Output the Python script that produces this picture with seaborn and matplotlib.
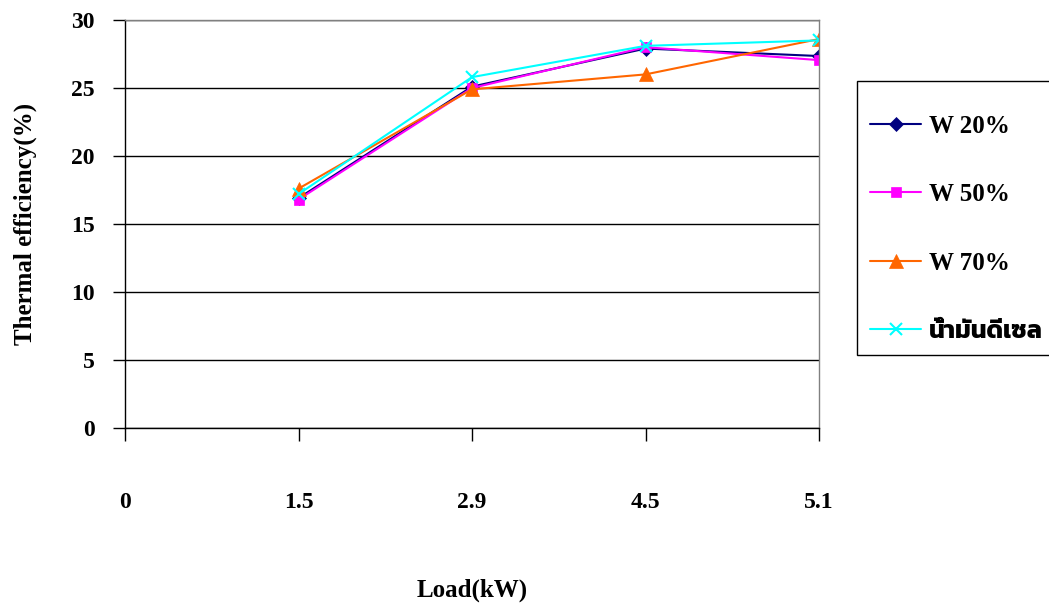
import matplotlib
matplotlib.use("Agg")
import matplotlib.pyplot as plt
from matplotlib import font_manager, ft2font
from matplotlib.patches import Rectangle
import seaborn as sns
import pandas as pd

# Load steps shown on the axis (kW); the first tick is the origin
load_ticks = ["0", "1.5", "2.9", "4.5", "5.1"]
loads = ["1.5", "2.9", "4.5", "5.1"]

# Thermal efficiency (%) for each fuel blend
w20 = [16.9, 25.1, 27.9, 27.35]
w50 = [16.8, 25.0, 28.0, 27.05]
w70 = [17.6, 24.9, 26.0, 28.6]
diesel = [17.2, 25.8, 28.1, 28.5]

series_names = ["W 20%", "W 50%", "W 70%", "น้ำมันดีเซล"]
series_values = [w20, w50, w70, diesel]
colors = ["#000080", "#FF00FF", "#FF6600", "#00FFFF"]
markers = ["D", "s", "^", "x"]
msizes = [7.5, 7.5, 9.5, 9]


def thai_font_name():
    """Return an installed family that can draw Thai script, bold faces first."""
    found = []
    for f in font_manager.fontManager.ttflist:
        try:
            cmap = ft2font.FT2Font(f.fname).get_charmap()
        except Exception:
            continue
        if ord("น") in cmap and ord("ำ") in cmap:
            w = f.weight if isinstance(f.weight, int) else (700 if "bold" in str(f.weight).lower() else 400)
            found.append((-w, "Sans" in f.name, f.name))
    found.sort()
    return found[0][2] if found else None


sns.set_theme(style="white")
thai = thai_font_name()
families = ["Liberation Serif"] + ([thai] if thai else []) + ["DejaVu Sans"]
plt.rcParams["font.family"] = families
plt.rcParams["font.weight"] = "bold"
plt.rcParams["text.color"] = "black"
plt.rcParams["axes.labelcolor"] = "black"
plt.rcParams["xtick.color"] = "black"
plt.rcParams["ytick.color"] = "black"

rows = []
for name, vals in zip(series_names, series_values):
    for ld, v in zip(loads, vals):
        rows.append({"series": name, "pos": load_ticks.index(ld), "eff": v})
df = pd.DataFrame(rows)

W, H = 1049, 603
fig = plt.figure(figsize=(W / 100, H / 100), dpi=100)
ax = fig.add_axes([125 / W, 1 - 428 / H, 694 / W, 408 / H])

for name, c, m, ms in zip(series_names, colors, markers, msizes):
    sub = df[df["series"] == name]
    sns.lineplot(data=sub, x="pos", y="eff", ax=ax, color=c, marker=m,
                 markersize=ms, markeredgecolor=c, markerfacecolor=c,
                 markeredgewidth=1.5 if m == "x" else 0.5,
                 linewidth=1.5, label=name, legend=False)

ax.set_xlim(0, len(load_ticks) - 1)
ax.set_ylim(0, 30)
ax.set_yticks(range(0, 31, 5))
ax.set_xticks(range(len(load_ticks)))
ax.set_xticklabels(load_ticks)
ax.yaxis.grid(True, color="black", linewidth=1.0)
ax.xaxis.grid(False)
ax.set_axisbelow(True)

for side in ["left", "bottom"]:
    ax.spines[side].set_color("black")
    ax.spines[side].set_linewidth(1.0)
for side in ["top", "right"]:
    ax.spines[side].set_color("#808080")
    ax.spines[side].set_linewidth(1.0)

ax.tick_params(axis="x", bottom=True, direction="out", length=9, width=1,
               color="black", labelcolor="black", pad=37, labelsize=17)
ax.tick_params(axis="y", left=True, direction="out", length=9, width=1,
               color="black", labelcolor="black", pad=13, labelsize=17)
for lbl in ax.get_xticklabels() + ax.get_yticklabels():
    lbl.set_fontweight("bold")

ax.set_xlabel("Load(kW)", fontsize=18, fontweight="bold", labelpad=47,
              color="black")
ax.set_ylabel("Thermal efficiency(%)", fontsize=18, fontweight="bold",
              labelpad=24, color="black")

# Legend box runs past the right edge of the figure
fig.patches.append(Rectangle((857 / W, 1 - 355 / H), 220 / W, 274 / H,
                             transform=fig.transFigure, facecolor="white",
                             edgecolor="black", linewidth=1.0, zorder=0))

handles, labels = ax.get_legend_handles_labels()
leg = fig.legend(handles, labels, loc="center left",
                 bbox_to_anchor=(870 / W, 1 - 229 / H),
                 bbox_transform=fig.transFigure,
                 prop={"size": 18, "weight": "bold", "family": families},
                 frameon=False, labelspacing=1.82, borderpad=0,
                 handlelength=2.05, handletextpad=0.3, borderaxespad=0,
                 labelcolor="black")

fig.savefig("out.png", dpi=100, facecolor="white")
